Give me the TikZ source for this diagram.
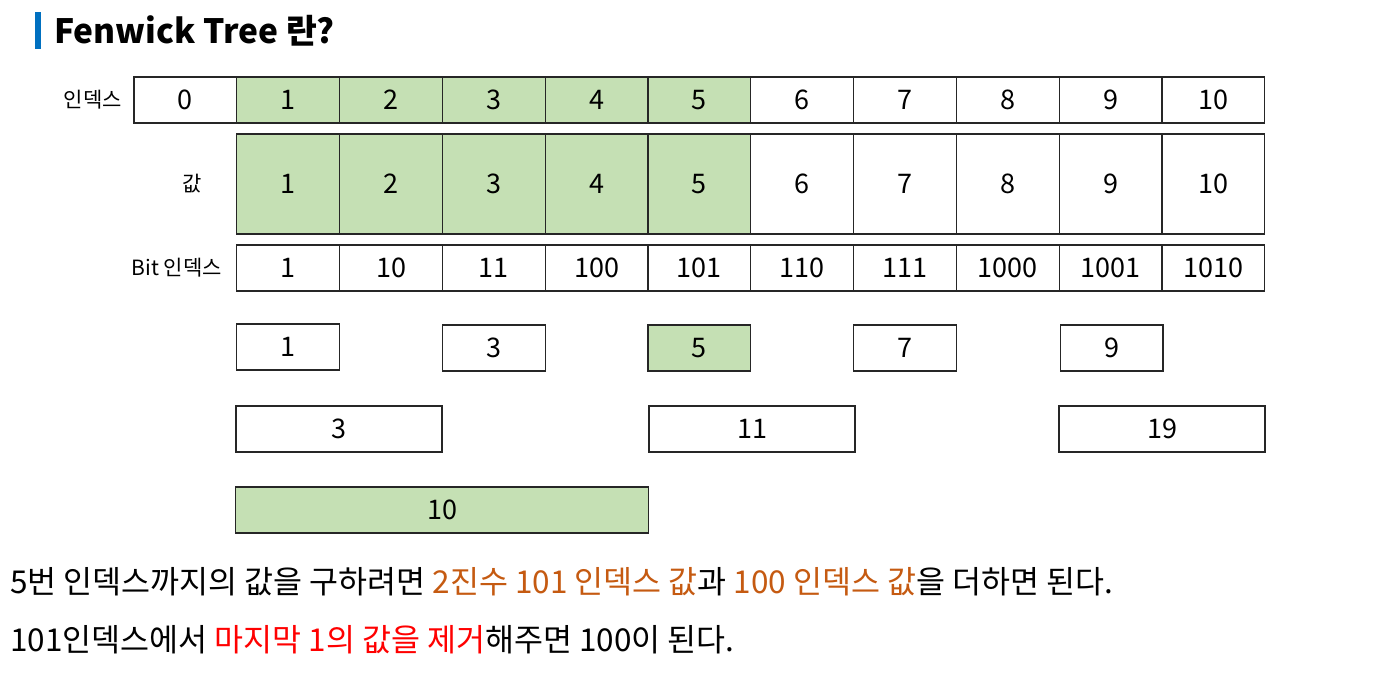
\documentclass[tikz,border=0pt]{standalone}
\usepackage{fontspec}
\setmainfont{Noto Sans CJK KR}
\usetikzlibrary{positioning}
\definecolor{cellgreen}{HTML}{C5E0B4}
\definecolor{titleblue}{HTML}{0070C0}
\definecolor{hlorange}{HTML}{C55A11}
\definecolor{hlred}{HTML}{FF0000}
\tikzstyle{cell}=[draw=black!85,line width=1.2pt,inner sep=0pt,minimum height=46pt,font=\fontsize{27}{30}\selectfont]
\tikzstyle{hit}=[cell,fill=cellgreen]
\tikzstyle{rowlabel}=[anchor=east,inner sep=0pt,font=\fontsize{21}{24}\selectfont]
\tikzstyle{remark}=[anchor=west,inner sep=0pt,font=\fontsize{31.5}{34}\selectfont]
\tikzset{x=1pt,y=-1pt}

\begin{document}
\begin{tikzpicture}
    \useasboundingbox (0,0) rectangle (1391,700);

    % title
    \fill[titleblue] (35,12) rectangle (41,49);
    \node[anchor=base west,inner sep=0pt,font=\fontsize{33.5}{38}\selectfont\bfseries] (title) at (54,44) {Fenwick Tree 란?};

    % index row
    \node[rowlabel] (lblindex) at (122,100) {인덱스};
    \foreach \i in {0,...,10} {
        \ifnum\i>0 \ifnum\i<6 \def\st{hit}\else\def\st{cell}\fi \else \def\st{cell}\fi
        \node[\st,minimum width=102.8pt] (idx\i) at (185.4+102.8*\i,100) {\i};
    }

    % value row
    \node[rowlabel] (lblvalue) at (202,184) {값};
    \foreach \i in {1,...,10} {
        \ifnum\i<6 \def\st{hit}\else\def\st{cell}\fi
        \node[\st,minimum width=102.8pt,minimum height=100pt] (val\i) at (185.4+102.8*\i,184) {\i};
    }

    % bit index row
    \node[rowlabel] (lblbit) at (222,268) {Bit 인덱스};
    \foreach \b [count=\i] in {1,10,11,100,101,110,111,1000,1001,1010} {
        \node[cell,minimum width=102.8pt] (bit\i) at (185.4+102.8*\i,268) {\b};
    }

    % tree levels
    \node[cell,minimum width=102.8pt] (tree1) at (288.2,347) {1};
    \node[cell,minimum width=102.8pt] (tree3) at (493.8,348) {3};
    \node[hit,minimum width=102.8pt] (tree5) at (699.4,348) {5};
    \node[cell,minimum width=102.8pt] (tree7) at (905,348) {7};
    \node[cell,minimum width=102.8pt] (tree9) at (1111.6,348) {9};

    \node[cell,minimum width=206pt] (tree2) at (339,429) {3};
    \node[cell,minimum width=206pt] (tree6) at (752,429) {11};
    \node[cell,minimum width=206pt] (tree10) at (1162,429) {19};

    \node[hit,minimum width=413pt] (tree4) at (442,510) {10};

    % explanation
    \node[remark] (line1) at (10,582) {5번 인덱스까지의 값을 구하려면 \textcolor{hlorange}{2진수 101 인덱스 값}과 \textcolor{hlorange}{100 인덱스 값}을 더하면 된다.};
    \node[remark] (line2) at (10,640) {101인덱스에서 \textcolor{hlred}{마지막 1의 값을 제거}해주면 100이 된다.};
\end{tikzpicture}
\end{document}
